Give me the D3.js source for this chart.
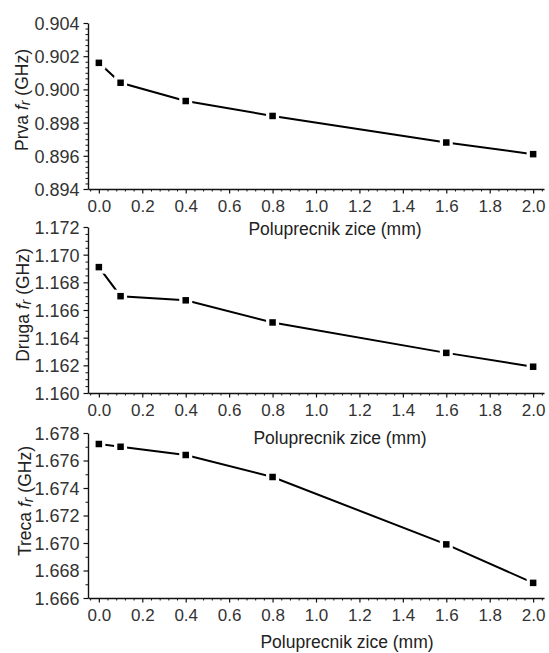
<!DOCTYPE html>
<html><head><meta charset="utf-8">
<script src="https://cdn.jsdelivr.net/npm/d3@7"></script>
<style>
html,body{margin:0;padding:0;background:#fff;}
svg{display:block;}
text{font-family:"Liberation Sans", Arial, sans-serif;}
</style></head>
<body>
<svg id="c" width="549" height="653"></svg>
<script>
// ---- data ----
const radius = [0, 0.1, 0.4, 0.8, 1.6, 2.0];
const prva  = [0.9016, 0.9004, 0.8993, 0.8984, 0.8968, 0.8961];
const druga = [1.1691, 1.1670, 1.1667, 1.1651, 1.1629, 1.1619];
const treca = [1.6772, 1.6770, 1.6764, 1.6748, 1.6699, 1.6671];
const xTickValues = [0.0, 0.2, 0.4, 0.6, 0.8, 1.0, 1.2, 1.4, 1.6, 1.8, 2.0];
const prvaTicks  = [0.894, 0.896, 0.898, 0.900, 0.902, 0.904];
const drugaTicks = [1.160, 1.162, 1.164, 1.166, 1.168, 1.170, 1.172];
const trecaTicks = [1.666, 1.668, 1.670, 1.672, 1.674, 1.676, 1.678];
const yNames = ["Prva", "Druga", "Treca"];
const xTitle = "Poluprecnik zice (mm)";

// ---- layout ----
const svg = d3.select("#c");
const left = 88, right = 544;
const x = d3.scaleLinear().domain([-0.05, 2.05]).range([left, right]);
const xMinor = d3.range(-1, 52).map(i => +(i * 0.04).toFixed(2))
  .filter(v => v >= -0.05 && v <= 2.05 && !xTickValues.some(t => Math.abs(t - v) < 1e-6));

const panels = [
  {vals: prva,  ticks: prvaTicks,  minorN: 6, top: 23,  bottom: 189, name: yNames[0], labX: 28, labY: 100, titleX: 335, titleY: 235},
  {vals: druga, ticks: drugaTicks, minorN: 4, top: 227, bottom: 393, name: yNames[1], labX: 29, labY: 305, titleX: 340, titleY: 444},
  {vals: treca, ticks: trecaTicks, minorN: 2, top: 433, bottom: 598, name: yNames[2], labX: 31, labY: 501, titleX: 347, titleY: 648}
];

panels.forEach(p => {
  const lo = p.ticks[0], hi = p.ticks[p.ticks.length - 1];
  const y = d3.scaleLinear().domain([lo, hi]).range([p.bottom, p.top]);
  const step = (p.ticks[1] - p.ticks[0]) / p.minorN;
  const yMinor = [];
  for (let i = 0; i < p.ticks.length - 1; i++)
    for (let k = 1; k < p.minorN; k++) yMinor.push(p.ticks[i] + k * step);

  const g = svg.append("g");

  // minor ticks
  g.append("g").attr("transform", `translate(${left},0)`)
    .call(d3.axisLeft(y).tickValues(yMinor).tickSize(2.5).tickFormat("").tickSizeOuter(0))
    .call(s => s.select(".domain").remove())
    .call(s => s.selectAll("line").attr("stroke", "#111").attr("stroke-width", 1));
  g.append("g").attr("transform", `translate(0,${p.bottom})`)
    .call(d3.axisBottom(x).tickValues(xMinor).tickSize(2.5).tickFormat("").tickSizeOuter(0))
    .call(s => s.select(".domain").remove())
    .call(s => s.selectAll("line").attr("stroke", "#111").attr("stroke-width", 1));

  // major y axis
  g.append("g").attr("transform", `translate(${left},0)`)
    .call(d3.axisLeft(y).tickValues(p.ticks).tickSize(4.5).tickPadding(4).tickSizeOuter(0).tickFormat(d3.format(".3f")))
    .call(s => s.select(".domain").attr("stroke", "#111").attr("stroke-width", 1.4))
    .call(s => s.selectAll("line").attr("stroke", "#111").attr("stroke-width", 1.2))
    .call(s => s.selectAll("text").attr("font-size", 18).attr("fill", "#333")
      .attr("font-family", '"Liberation Sans", Arial, sans-serif').attr("dy", "0.36em"));

  // major x axis
  g.append("g").attr("transform", `translate(0,${p.bottom})`)
    .call(d3.axisBottom(x).tickValues(xTickValues).tickSize(4.5).tickPadding(6).tickSizeOuter(0).tickFormat(d3.format(".1f")))
    .call(s => s.select(".domain").attr("stroke", "#111").attr("stroke-width", 1.4))
    .call(s => s.selectAll("line").attr("stroke", "#111").attr("stroke-width", 1.2))
    .call(s => s.selectAll("text").attr("font-size", 17).attr("fill", "#333")
      .attr("font-family", '"Liberation Sans", Arial, sans-serif'));

  // x title
  g.append("text").attr("x", p.titleX).attr("y", p.titleY)
    .attr("text-anchor", "middle").attr("font-size", 17.5).attr("fill", "#222")
    .text(xTitle);

  // y title
  const t = g.append("text").attr("transform", `translate(${p.labX},${p.labY}) rotate(-90)`)
    .attr("text-anchor", "middle").attr("font-size", 17.5).attr("fill", "#222");
  t.append("tspan").text(p.name + " ");
  t.append("tspan").attr("font-style", "italic").text("f");
  t.append("tspan").attr("font-style", "italic").attr("font-size", 14).attr("dy", 2).text("r");
  t.append("tspan").attr("dy", -2).text(" (GHz)");

  // line
  const pts = radius.map((r, i) => [r, p.vals[i]]);
  g.append("path").datum(pts)
    .attr("fill", "none").attr("stroke", "#000").attr("stroke-width", 2)
    .attr("d", d3.line().x(d => x(d[0])).y(d => y(d[1])));

  // gap around markers
  g.selectAll("rect.gap").data(pts).enter().append("rect")
    .attr("x", d => x(d[0]) - 6.5).attr("y", d => y(d[1]) - 6.5)
    .attr("width", 13).attr("height", 13).attr("fill", "#fff");
  g.selectAll("rect.mk").data(pts).enter().append("rect")
    .attr("x", d => x(d[0]) - 3.25).attr("y", d => y(d[1]) - 3.25)
    .attr("width", 6.5).attr("height", 6.5).attr("fill", "#000");
});
</script>
</body></html>
